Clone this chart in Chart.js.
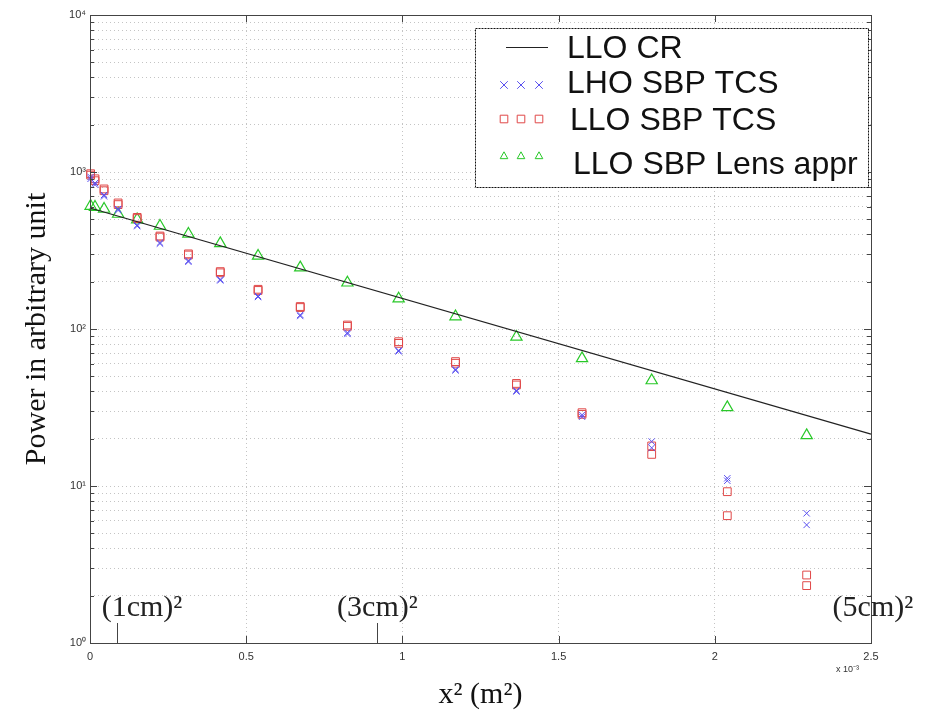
<!DOCTYPE html>
<html>
<head>
<meta charset="utf-8">
<script src="https://cdn.jsdelivr.net/npm/chart.js@4.4.1/dist/chart.umd.min.js"></script>
<style>
html, body { margin: 0; padding: 0; background: #fff; }
#wrap { width: 936px; height: 713px; }
</style>
</head>
<body>
<div id="wrap"><canvas id="powerGraph" width="936" height="713"></canvas></div>
<script>
// x² positions of the measurements, in units of 1e-3 m²
const xSquared = [0.002, 0.016, 0.045, 0.090, 0.151, 0.224, 0.315, 0.417, 0.538, 0.673, 0.824, 0.988, 1.170, 1.365, 1.575, 1.798, 2.040, 2.294];

// LLO SBP Lens appr (one value per position)
const lensAppr = [607, 598, 581, 540, 498, 453, 403, 351, 292, 246, 197, 156, 120, 89, 65, 47, 31.7, 21.0];

// LHO SBP TCS, both sides of the beam
const lhoTcsA = [930, 850, 714, 581, 459, 355, 272, 207, 162, 123, 94.7, 73, 55.4, 40.5, 27.6, 19.2, 11.2, 6.7];
const lhoTcsB = [905, 830, 700, 570, 452, 350, 268, 204, 160, 121, 93, 72, 54.5, 40, 28.4, 17.5, 10.8, 5.65];

// LLO SBP TCS, both sides of the beam
const lloTcsA = [975, 905, 780, 635, 514, 391, 301, 232, 179, 139, 106, 83, 62, 45, 29.3, 18.0, 9.2, 2.71];
const lloTcsB = [955, 880, 760, 620, 505, 385, 296, 228, 176, 137, 104, 81, 60.5, 44, 28.6, 15.9, 6.47, 2.32];

// LLO CR fit line end points
const crX = [0, 2.5];
const crPower = [590, 21.4];

const decades = [1, 10, 100, 1000, 10000];
const decadeLabels = ["10⁰", "10¹", "10²", "10³", "10⁴"];

// annotations of beam radius along the x axis
const sizeMarks = [
    { text: "(1cm)²", tick: 0.086, textX: 0.0375 },
    { text: "(3cm)²", tick: 0.92, textX: 0.791 },
    { text: "(5cm)²", tick: null, textX: 2.377 }
];

const SERIF = '"Liberation Serif", "Times New Roman", serif';
const SANS = '"Liberation Sans", Arial, sans-serif';

function zip(xs, ys) {
    return xs.map((x, i) => ({ x: x, y: ys[i] }));
}

// legend rows: symbol y, text x, text y
const legendRows = [
    { sy: 47, tx: 567, ty: 49 },
    { sy: 85, tx: 567, ty: 84 },
    { sy: 119, tx: 570, ty: 121 },
    { sy: 156, tx: 573, ty: 165 }
];

function drawMarker(ctx, ds, x, y, r) {
    ctx.save();
    ctx.strokeStyle = ds.borderColor;
    ctx.lineWidth = 1;
    ctx.beginPath();
    if (ds.pointStyle === "crossRot") {
        ctx.moveTo(x - r, y - r); ctx.lineTo(x + r, y + r);
        ctx.moveTo(x + r, y - r); ctx.lineTo(x - r, y + r);
    } else if (ds.pointStyle === "rect") {
        ctx.rect(x - r, y - r, 2 * r, 2 * r);
    } else if (ds.pointStyle === "triangle") {
        ctx.moveTo(x, y - r * 1.1); ctx.lineTo(x + r, y + r * 0.7); ctx.lineTo(x - r, y + r * 0.7); ctx.closePath();
    }
    ctx.stroke();
    ctx.restore();
}

// frame, inward tick marks, legend and size annotations
const decorPlugin = {
    id: "decor",
    afterDraw(chart) {
        const { ctx, chartArea: a, scales } = chart;
        ctx.save();
        ctx.strokeStyle = "#444";
        ctx.lineWidth = 1;
        ctx.strokeRect(a.left + 0.5, a.top + 0.5, a.right - a.left, a.bottom - a.top);
        ctx.beginPath();
        scales.x.ticks.forEach(t => {
            const px = Math.round(scales.x.getPixelForValue(t.value)) + 0.5;
            ctx.moveTo(px, a.bottom); ctx.lineTo(px, a.bottom - 7);
            ctx.moveTo(px, a.top); ctx.lineTo(px, a.top + 7);
        });
        scales.y.ticks.forEach(t => {
            const py = Math.round(scales.y.getPixelForValue(t.value)) + 0.5;
            const len = decades.includes(t.value) ? 7 : 4;
            ctx.moveTo(a.left, py); ctx.lineTo(a.left + len, py);
            ctx.moveTo(a.right, py); ctx.lineTo(a.right - len, py);
        });
        ctx.stroke();

        // exponent note
        ctx.fillStyle = "#333";
        ctx.font = "9px " + SANS;
        ctx.textAlign = "left";
        ctx.textBaseline = "middle";
        ctx.fillText("x 10⁻³", a.right - 35, 670);

        // size annotations
        ctx.fillStyle = "#222";
        ctx.font = "30px " + SERIF;
        ctx.textBaseline = "alphabetic";
        sizeMarks.forEach(m => {
            ctx.fillText(m.text, scales.x.getPixelForValue(m.textX), a.bottom - 27);
            if (m.tick !== null) {
                const px = Math.round(scales.x.getPixelForValue(m.tick)) + 0.5;
                ctx.beginPath();
                ctx.moveTo(px, a.bottom); ctx.lineTo(px, a.bottom - 20);
                ctx.stroke();
            }
        });

        // legend box
        const box = { left: 475, top: 28, right: 868, bottom: 187 };
        ctx.fillStyle = "#fff";
        ctx.fillRect(box.left, box.top, box.right - box.left, box.bottom - box.top);
        ctx.setLineDash([2, 1]);
        ctx.strokeStyle = "#111";
        ctx.strokeRect(box.left + 0.5, box.top + 0.5, box.right - box.left, box.bottom - box.top);
        ctx.setLineDash([]);
        chart.data.datasets.forEach((ds, i) => {
            const row = legendRows[i];
            if (ds.showLine) {
                ctx.strokeStyle = ds.borderColor;
                ctx.beginPath();
                ctx.moveTo(506, row.sy + 0.5); ctx.lineTo(548, row.sy + 0.5);
                ctx.stroke();
            } else {
                [504, 521, 539].forEach(mx => drawMarker(ctx, ds, mx, row.sy, 3.8));
            }
            ctx.fillStyle = "#111";
            ctx.font = "32px " + SANS;
            ctx.textBaseline = "middle";
            ctx.fillText(ds.label, row.tx, row.ty);
        });
        ctx.restore();
    }
};

const datasets = [
    {
        label: "LLO CR",
        data: zip(crX, crPower),
        showLine: true,
        borderColor: "#222",
        borderWidth: 1.2,
        pointRadius: 0,
        clip: false
    },
    {
        label: "LHO SBP TCS",
        data: zip(xSquared, lhoTcsA).concat(zip(xSquared, lhoTcsB)),
        pointStyle: "crossRot",
        pointRadius: 4.5,
        borderColor: "#5a50f0",
        backgroundColor: "rgba(0,0,0,0)",
        borderWidth: 1,
        clip: false
    },
    {
        label: "LLO SBP TCS",
        data: zip(xSquared, lloTcsA).concat(zip(xSquared, lloTcsB)),
        pointStyle: "rect",
        pointRadius: 5.5,
        borderColor: "#e04848",
        backgroundColor: "rgba(0,0,0,0)",
        borderWidth: 1,
        clip: false
    },
    {
        label: "LLO SBP Lens appr",
        data: zip(xSquared, lensAppr),
        pointStyle: "triangle",
        pointRadius: 6.5,
        borderColor: "#28c828",
        backgroundColor: "rgba(0,0,0,0)",
        borderWidth: 1.2,
        clip: false
    }
];

new Chart("powerGraph", {
    type: "scatter",
    data: { datasets: datasets },
    options: {
        responsive: false,
        animation: false,
        devicePixelRatio: 1,
        layout: { padding: { top: 15, right: 65, left: 0, bottom: 0 } },
        plugins: { legend: { display: false }, tooltip: { enabled: false } },
        scales: {
            x: {
                type: "linear",
                min: 0,
                max: 2.5,
                afterFit: (scale) => { scale.height = 70; },
                ticks: {
                    stepSize: 0.5,
                    padding: 7,
                    color: "#333",
                    font: { family: SANS, size: 11 },
                    callback: (value) => String(value)
                },
                grid: { color: "#c4c4c4", drawTicks: false },
                border: { display: false, dash: [1, 3] },
                title: { display: true, text: "x² (m²)", color: "#111", font: { family: SERIF, size: 30 }, padding: { top: 0, bottom: 0 } }
            },
            y: {
                type: "logarithmic",
                min: 1,
                max: 10000,
                afterFit: (scale) => { scale.width = 90; },
                afterBuildTicks: (scale) => {
                    const vals = [];
                    for (let i = 0; i < decades.length - 1; i++) {
                        for (let m = 1; m < 10; m++) vals.push(decades[i] * m);
                    }
                    vals.push(decades[decades.length - 1]);
                    scale.ticks = vals.map(v => ({ value: v }));
                },
                ticks: {
                    autoSkip: false,
                    padding: 4,
                    color: "#333",
                    font: { family: SANS, size: 11 },
                    callback: (value) => {
                        const idx = decades.indexOf(value);
                        return idx >= 0 ? decadeLabels[idx] : "";
                    }
                },
                grid: { color: "#c4c4c4", drawTicks: false },
                border: { display: false, dash: [1, 3] },
                title: { display: true, text: "Power in arbitrary unit", color: "#111", font: { family: SERIF, size: 30 }, padding: { top: 19, bottom: 0 } }
            }
        }
    },
    plugins: [decorPlugin]
});
</script>
</body>
</html>
